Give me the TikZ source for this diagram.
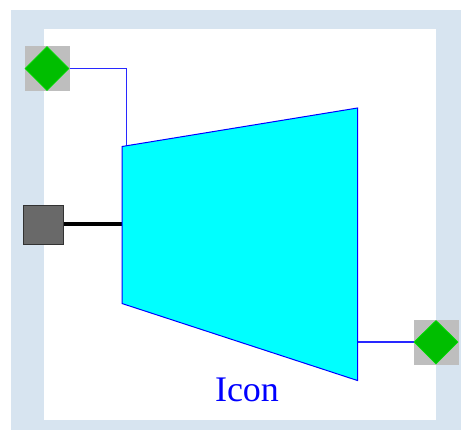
\documentclass[tikz,border=0pt]{standalone}
\usepackage{fontspec}
\setmainfont{Liberation Serif}
\definecolor{framecol}{RGB}{215,228,240}
\definecolor{portgrey}{RGB}{190,190,190}
\definecolor{portgreen}{RGB}{0,190,0}
\definecolor{portedge}{RGB}{0,225,0}
\definecolor{shaftbox}{RGB}{105,105,105}
\definecolor{shaftedge}{RGB}{50,50,50}
\definecolor{bodycyan}{RGB}{0,255,255}
\definecolor{purewire}{RGB}{40,40,255}
\tikzset{
  x=0.75pt,y=-0.75pt,
  wire/.style={draw=purewire,line width=0.85pt},
  portbg/.style={fill=portgrey,draw=none},
  portdiamond/.style={fill=portgreen,draw=portedge,line width=0.5pt,line join=miter},
}
\begin{document}
\begin{tikzpicture}
\useasboundingbox (0,0) rectangle (461,430);
\fill[white] (0,0) rectangle (461,430);
\fill[framecol] (11,10) rectangle (461,430);
\fill[white] (44,29) rectangle (436,420);
\coordinate (inA) at (47,68.5);
\coordinate (knee) at (126.5,68.5);
\coordinate (inB) at (126.5,146);
\coordinate (outA) at (357.5,341.9);
\coordinate (outB) at (436,341.9);
\coordinate (shaftA) at (63.5,224);
\coordinate (shaftB) at (122,224);
\draw[wire] (inA) -- (knee) -- (inB);
\draw[wire,line width=1.1pt] (outA) -- (outB);
\draw[black,line width=3pt] (shaftA) -- (shaftB);
\fill[bodycyan] (122,146.5) -- (357.5,108) -- (357.5,380.5) -- (122,303.5) -- cycle;
\draw[blue,line width=0.75pt,line join=miter] (122,146.5) -- (357.5,108) -- (357.5,380.5) -- (122,303.5) -- cycle;
\fill[portbg] (24.5,46) rectangle (69.5,91);
\filldraw[portdiamond] (47,46.5) -- (69,68.5) -- (47,90.5) -- (25,68.5) -- cycle;
\fill[portbg] (413.5,320) rectangle (458.5,364.5);
\filldraw[portdiamond] (436,320.5) -- (458,342) -- (436,364) -- (414,342) -- cycle;
\filldraw[fill=shaftbox,draw=shaftedge,line width=0.75pt] (23.5,205.5) rectangle (63.5,244);
\node[text=blue,font=\fontsize{27pt}{30pt}\selectfont,inner sep=0pt] (lbl) at (247,390) {Icon};
\end{tikzpicture}
\end{document}
